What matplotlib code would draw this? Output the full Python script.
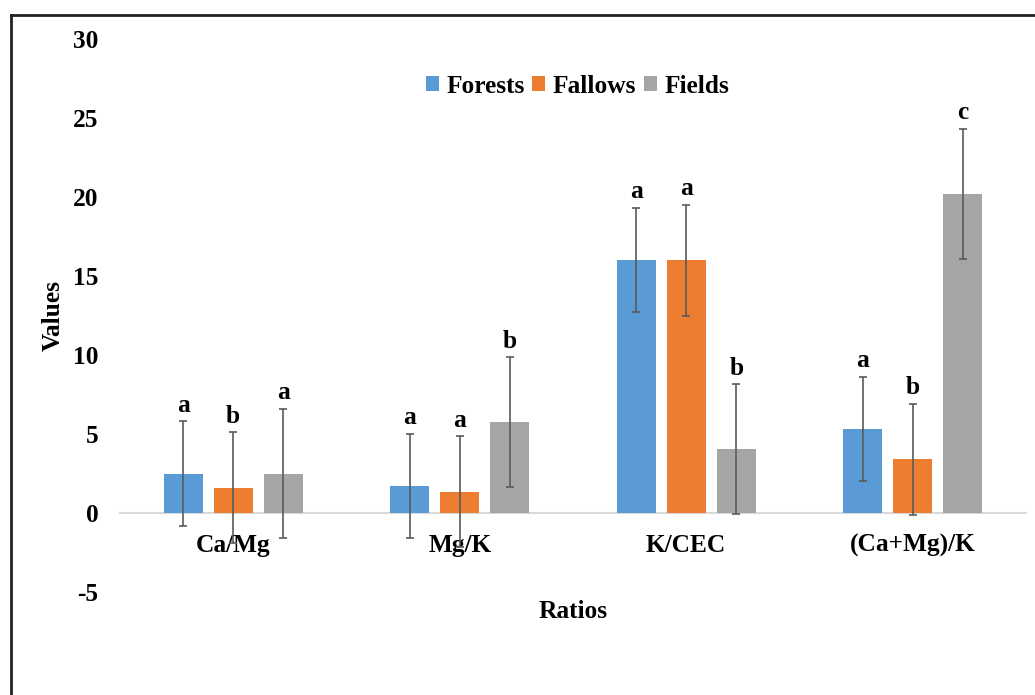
import numpy as np
import matplotlib
matplotlib.use("Agg")
import matplotlib.pyplot as plt
from matplotlib.patches import Patch
from matplotlib.lines import Line2D

# ratio categories and per-landuse means / error bars / significance letters
ratios = ['Ca/Mg', 'Mg/K', 'K/CEC', '(Ca+Mg)/K']
series = ['Forests', 'Fallows', 'Fields']

forests = [2.5, 1.7, 16.0, 5.3]
fallows = [1.6, 1.35, 16.0, 3.4]
fields = [2.5, 5.75, 4.05, 20.2]

forests_err = [3.3, 3.3, 3.3, 3.3]
fallows_err = [3.5, 3.5, 3.5, 3.5]
fields_err = [4.1, 4.1, 4.1, 4.1]

forests_let = ['a', 'a', 'a', 'a']
fallows_let = ['b', 'a', 'a', 'b']
fields_let = ['a', 'b', 'b', 'c']

colors = ['#5B9BD5', '#ED7D31', '#A5A5A5']

plt.rcParams['font.family'] = ['Liberation Serif', 'DejaVu Serif']
plt.rcParams['font.weight'] = 'bold'
fs = 18.3

fig = plt.figure(figsize=(10.35, 6.95), dpi=100)
ax = fig.add_axes([120 / 1035, 1 - 592 / 695, 906 / 1035, 553 / 695])

x = np.arange(len(ratios))
width = 0.172
step = 0.221
vals = [forests, fallows, fields]
errs = [forests_err, fallows_err, fields_err]
lets = [forests_let, fallows_let, fields_let]

for i in range(3):
    xs = x + (i - 1) * step
    ax.bar(xs, vals[i], width, color=colors[i], zorder=2)
    ax.errorbar(xs, vals[i], yerr=errs[i], fmt='none', ecolor='#5a5a5a',
                elinewidth=1.2, capsize=3, capthick=1.2, zorder=3)
    for xx, v, e, t in zip(xs, vals[i], errs[i], lets[i]):
        ax.annotate(t, (xx, v + e), xytext=(0, 7), textcoords='offset points',
                    ha='center', va='baseline', fontsize=fs, fontweight='bold')

ax.set_xlim(-0.5, 3.5)
ax.set_ylim(-5, 30)
ax.set_yticks(np.arange(-5, 31, 5))
ax.set_yticklabels([str(v) for v in range(-5, 31, 5)])
ax.set_xticks(x)
ax.set_xticklabels(ratios)

for s in ['top', 'right', 'left']:
    ax.spines[s].set_visible(False)
ax.spines['bottom'].set_position(('data', 0))
ax.spines['bottom'].set_color('#D9D9D9')
ax.spines['bottom'].set_linewidth(1.5)
ax.spines['bottom'].set_zorder(1)
ax.tick_params(axis='x', length=0, pad=15, labelsize=fs)
ax.tick_params(axis='y', length=0, pad=15.5, labelsize=fs)

handles = [Patch(facecolor=c, edgecolor='none') for c in colors]
ax.legend(handles, series, loc='center', bbox_to_anchor=(0.505, 0.915),
          ncol=3, frameon=False, fontsize=fs, handlelength=0.5,
          handleheight=0.5, handletextpad=0.3, columnspacing=0.3)

fig.text(53 / 1035, 1 - 315 / 695, 'Values', rotation=90, ha='center',
         va='center', fontsize=fs, fontweight='bold')
fig.text(573 / 1035, 1 - 611 / 695, 'Ratios', ha='center', va='center',
         fontsize=fs, fontweight='bold')

# outer frame (only top and left edges inside the picture)
fx = 11 / 1035
fy = 1 - 15 / 695
fig.add_artist(Line2D([fx, 1.0], [fy, fy], transform=fig.transFigure,
                      color='#222222', linewidth=2))
fig.add_artist(Line2D([fx, fx], [0.0, fy], transform=fig.transFigure,
                      color='#222222', linewidth=2))

fig.savefig('out.png', dpi=100)
